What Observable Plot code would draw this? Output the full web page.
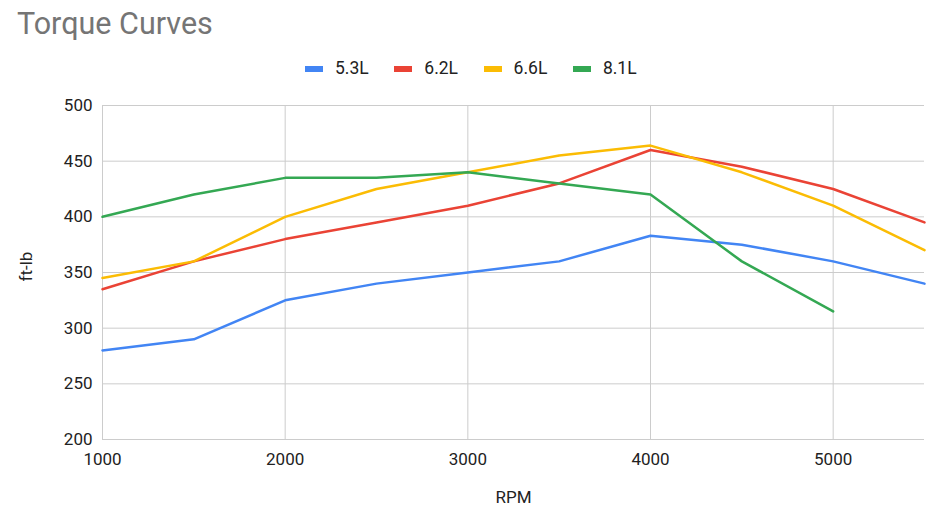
<!DOCTYPE html>
<html><head><meta charset="utf-8">
<script src="https://cdn.jsdelivr.net/npm/d3@7"></script>
<script src="https://cdn.jsdelivr.net/npm/@observablehq/plot@0.6"></script>
<style>
body{margin:0;background:#fff;font-family:Roboto,sans-serif;}
#wrap{position:relative;width:933px;height:522px;overflow:hidden;background:#fff}
#header{position:relative;height:90px}
#title{position:absolute;left:17px;top:9px;font-size:30.5px;line-height:30px;color:#757575;white-space:nowrap}
.item{position:absolute;top:60px;height:17px;display:flex;align-items:center;font-size:17.5px;line-height:17px;color:#222;white-space:nowrap}
.sw{width:18px;height:6px;margin-right:12px}
svg{display:block}
</style></head>
<body>
<div id="wrap">
  <div id="header"><div id="title">Torque Curves</div></div>
  <div id="chart"></div>
</div>
<script>
const rpm = [1000, 1500, 2000, 2500, 3000, 3500, 4000, 4500, 5000, 5500];
const torque53 = [280, 290, 325, 340, 350, 360, 383, 375, 360, 340];
const torque62 = [335, 360, 380, 395, 410, 430, 460, 445, 425, 395];
const torque66 = [345, 360, 400, 425, 440, 455, 464, 440, 410, 370];
const torque81 = [400, 420, 435, 435, 440, 430, 420, 360, 315, null];
const seriesNames = ["5.3L", "6.2L", "6.6L", "8.1L"];
const seriesColors = ["#4285F4", "#EA4335", "#FBBC04", "#34A853"];
const xTicks = [1000, 2000, 3000, 4000, 5000];
const yTicks = [200, 250, 300, 350, 400, 450, 500];

const allSeries = [torque53, torque62, torque66, torque81];
const data = [];
allSeries.forEach((vals, s) => {
  rpm.forEach((r, i) => data.push({series: seriesNames[s], rpm: r, torque: vals[i]}));
});

// legend
const header = document.getElementById("header");
seriesNames.forEach((name, i) => {
  const item = document.createElement("div");
  item.className = "item";
  item.style.left = (305 + i * 89.3) + "px";
  const sw = document.createElement("div");
  sw.className = "sw";
  sw.style.background = seriesColors[i];
  const lab = document.createElement("span");
  lab.textContent = name;
  item.appendChild(sw); item.appendChild(lab);
  header.appendChild(item);
});

const chart = Plot.plot({
  width: 933,
  height: 432,
  marginTop: 15,
  marginBottom: 83,
  marginLeft: 102,
  marginRight: 9,
  style: {fontFamily: "Roboto, sans-serif", fontSize: "17px", color: "#222", background: "#fff", overflow: "visible"},
  x: {domain: [1000, 5500], ticks: xTicks, tickFormat: "d", label: null},
  y: {domain: [200, 500], ticks: yTicks, tickFormat: "d", label: null},
  color: {domain: seriesNames, range: seriesColors},
  marks: [
    Plot.gridX(xTicks, {stroke: "#cccccc", strokeOpacity: 1, strokeWidth: 1}),
    Plot.gridY(yTicks, {stroke: "#cccccc", strokeOpacity: 1, strokeWidth: 1}),
    Plot.axisX(xTicks, {tickSize: 0, tickPadding: 13, tickFormat: "d", fill: "#222"}),
    Plot.axisY(yTicks, {tickSize: 0, tickPadding: 10, tickFormat: "d", fill: "#222"}),
    Plot.line(data, {x: "rpm", y: "torque", z: "series", stroke: "series", strokeWidth: 2.5, strokeLinejoin: "round"}),
    Plot.text(["ft-lb"], {frameAnchor: "left", text: d => d, rotate: -90, dx: -75.5, dy: 9, fill: "#222", fontSize: 17}),
    Plot.text(["RPM"], {frameAnchor: "bottom", text: d => d, dy: 63.6, fill: "#222", fontSize: 17})
  ]
});
document.getElementById("chart").appendChild(chart);
</script>
</body></html>
